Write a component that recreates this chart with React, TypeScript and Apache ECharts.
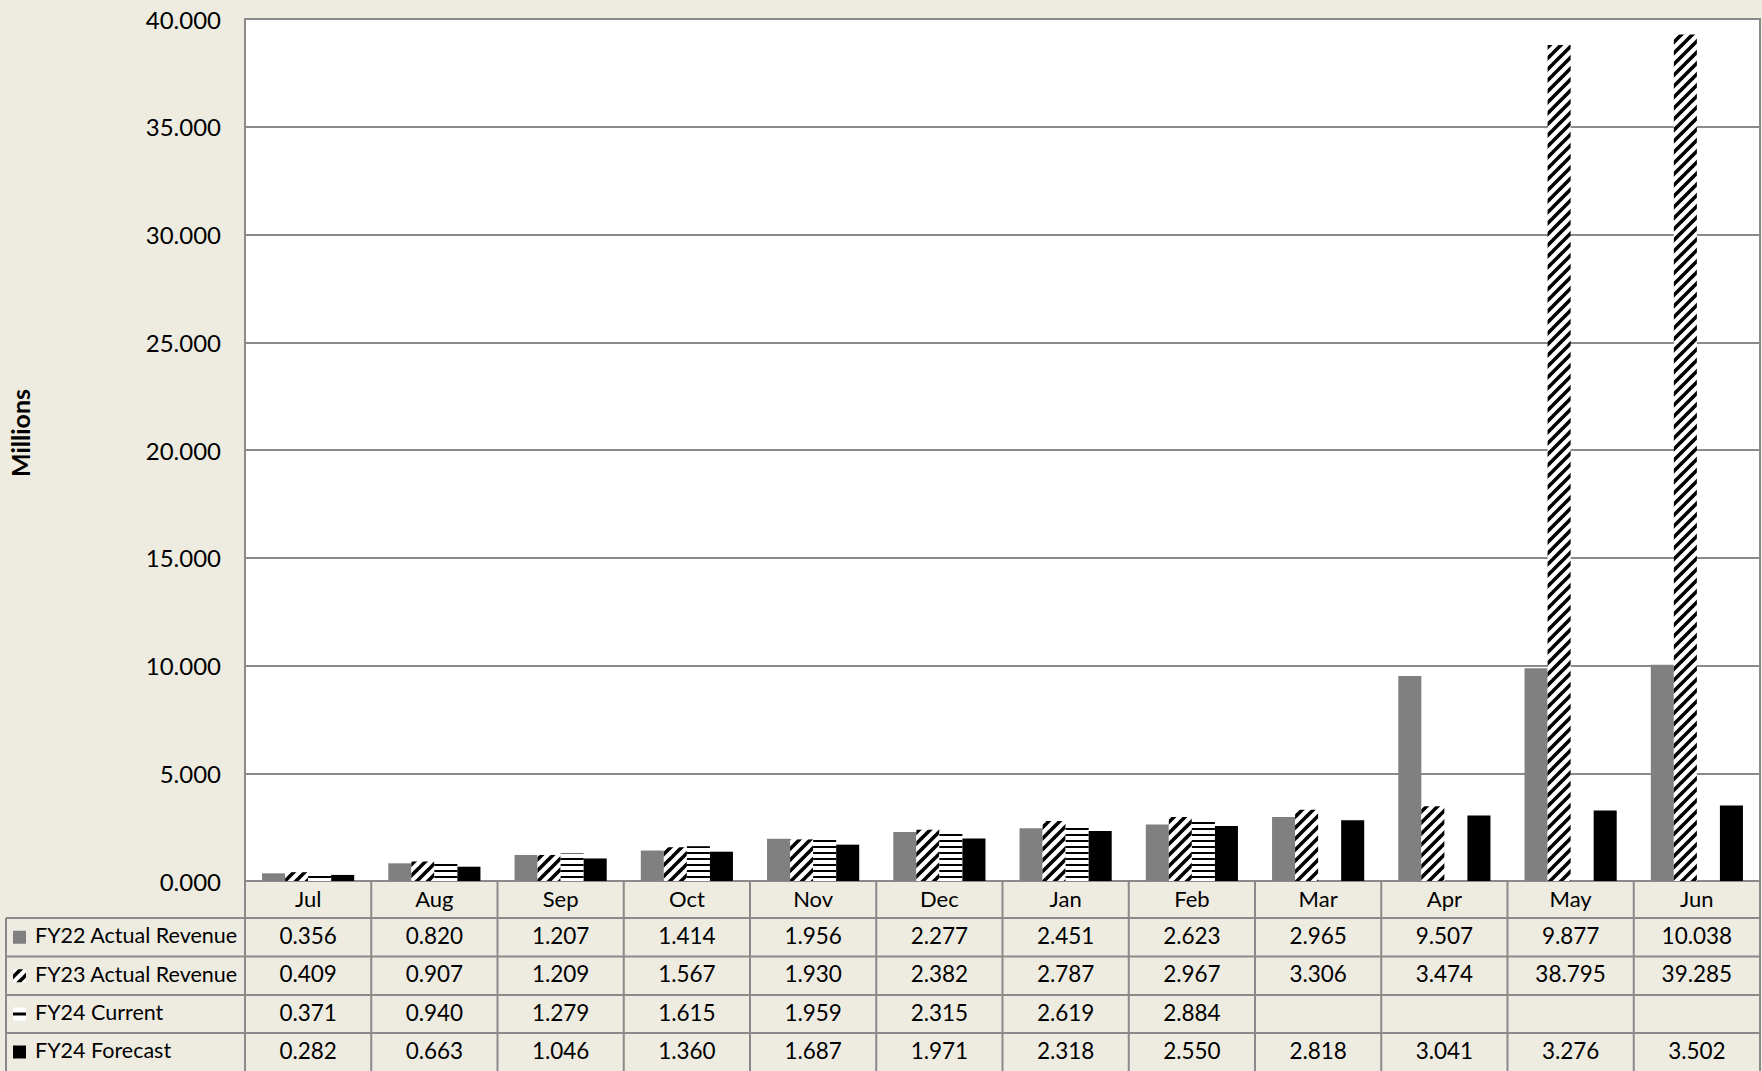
import React, { useEffect, useRef } from "react";
import * as echarts from "echarts";

const months = ["Jul", "Aug", "Sep", "Oct", "Nov", "Dec", "Jan", "Feb", "Mar", "Apr", "May", "Jun"];
const fy22Actual = [0.356, 0.82, 1.207, 1.414, 1.956, 2.277, 2.451, 2.623, 2.965, 9.507, 9.877, 10.038];
const fy23Actual = [0.409, 0.907, 1.209, 1.567, 1.93, 2.382, 2.787, 2.967, 3.306, 3.474, 38.795, 39.285];
const fy24Current = [0.371, 0.94, 1.279, 1.615, 1.959, 2.315, 2.619, 2.884, null, null, null, null];
const fy24Forecast = [0.282, 0.663, 1.046, 1.36, 1.687, 1.971, 2.318, 2.55, 2.818, 3.041, 3.276, 3.502];
const seriesNames = ["FY22 Actual Revenue", "FY23 Actual Revenue", "FY24 Current", "FY24 Forecast"];

const FONT = "Lato";
const BG = "#EEECE1";
const LINE = "#8a8a8a";

function makeDiag() {
  const s = 11;
  const c = document.createElement("canvas");
  c.width = s;
  c.height = s;
  const g = c.getContext("2d")!;
  g.fillStyle = "#fff";
  g.fillRect(0, 0, s, s);
  g.strokeStyle = "#000";
  g.lineWidth = 3.6;
  for (const k of [0, s, 2 * s]) {
    g.beginPath();
    g.moveTo(k + s, -s);
    g.lineTo(k - 2 * s, 2 * s);
    g.stroke();
  }
  return { image: c.toDataURL(), imageWidth: s, imageHeight: s, repeat: "repeat" };
}

function makeHoriz() {
  const w = 4, h = 6;
  const c = document.createElement("canvas");
  c.width = w;
  c.height = h;
  const g = c.getContext("2d")!;
  g.fillStyle = "#fff";
  g.fillRect(0, 0, w, h);
  g.fillStyle = "#000";
  g.fillRect(0, 0, w, 2);
  return { image: c.toDataURL(), imageWidth: w, imageHeight: h, repeat: "repeat" };
}

export default function App() {
  const ref = useRef<HTMLDivElement>(null);
  useEffect(() => {
    if (!ref.current) return;
    const chart = echarts.init(ref.current, null, { renderer: "svg" });
    const diag = makeDiag();
    const horiz = makeHoriz();
    const colors: any[] = ["#808080", diag, horiz, "#000000"];
    const datas = [fy22Actual, fy23Actual, fy24Current, fy24Forecast];

    const gridTop = 19;
    const gridBottomY = 881;
    const gridLeft = 245;
    const gridRight = 1760;

    chart.setOption({
      animation: false,
      backgroundColor: BG,
      grid: {
        left: gridLeft,
        top: gridTop,
        right: 1762 - gridRight,
        bottom: 1071 - gridBottomY,
        show: true,
        backgroundColor: "#ffffff",
        borderColor: LINE,
        borderWidth: 2,
      },
      xAxis: {
        type: "category",
        data: months,
        axisLine: { show: true, lineStyle: { color: LINE, width: 2 } },
        axisTick: { show: false },
        axisLabel: { fontFamily: FONT, fontSize: 22, color: "#000", margin: 6 },
      },
      yAxis: {
        type: "value",
        min: 0,
        max: 40,
        interval: 5,
        axisLine: { show: true, lineStyle: { color: LINE, width: 2 } },
        axisTick: { show: false },
        splitLine: { show: true, lineStyle: { color: LINE, width: 2 } },
        axisLabel: {
          fontFamily: FONT,
          fontSize: 24,
          color: "#000",
          margin: 24,
          formatter: (v: number) => v.toFixed(3),
        },
      },
      series: datas.map((d, i) => ({
        name: seriesNames[i],
        type: "bar",
        data: d,
        barGap: "0%",
        barCategoryGap: "27%",
        itemStyle: { color: colors[i] },
      })),
    });

    // Data table
    const centers = months.map((_, i) => chart.convertToPixel({ xAxisIndex: 0 }, i) as number);
    const colW = (gridRight - gridLeft) / months.length;
    const rowTops = [918, 956.5, 995, 1033, 1071];
    const tableLeft = 6;
    const els: any[] = [];
    const ln = (x1: number, y1: number, x2: number, y2: number) =>
      els.push({ type: "line", shape: { x1, y1, x2, y2 }, style: { stroke: LINE, lineWidth: 2 }, z: 100 });

    for (const y of rowTops.slice(0, 4)) ln(tableLeft, y, gridRight, y);
    ln(tableLeft, rowTops[0], tableLeft, 1071);
    for (let k = 0; k <= months.length; k++) {
      const x = gridLeft + k * colW;
      ln(x, gridBottomY, x, 1071);
    }

    for (let r = 0; r < 4; r++) {
      const cy = (rowTops[r] + rowTops[r + 1]) / 2;
      const ty = cy - 2;
      const kx = 13, ks = 13;
      if (r === 0) {
        els.push({ type: "rect", shape: { x: kx, y: cy - ks / 2, width: ks, height: ks }, style: { fill: "#808080" }, z: 100 });
      } else if (r === 1) {
        els.push({ type: "rect", shape: { x: kx, y: cy - ks / 2, width: ks, height: ks }, style: { fill: diag as any }, z: 100 });
      } else if (r === 2) {
        els.push({ type: "rect", shape: { x: kx, y: cy - ks / 2, width: ks, height: ks }, style: { fill: "#fff" }, z: 100 });
        els.push({ type: "rect", shape: { x: kx, y: cy - 1.5, width: ks, height: 3 }, style: { fill: "#000" }, z: 101 });
      } else {
        els.push({ type: "rect", shape: { x: kx, y: cy - ks / 2, width: ks, height: ks }, style: { fill: "#000" }, z: 100 });
      }
      els.push({
        type: "text",
        x: 35,
        y: ty,
        style: { text: seriesNames[r], fontFamily: FONT, fontSize: 21.5, fill: "#000", align: "left", verticalAlign: "middle" },
        z: 100,
      });
      const d = datas[r];
      d.forEach((v, i) => {
        if (v == null) return;
        els.push({
          type: "text",
          x: centers[i],
          y: ty,
          style: { text: (v as number).toFixed(3), fontFamily: FONT, fontSize: 22.5, fill: "#000", align: "center", verticalAlign: "middle" },
          z: 100,
        });
      });
    }

    els.push({
      type: "text",
      x: 20,
      y: 433,
      rotation: Math.PI / 2,
      style: { text: "Millions", fontFamily: FONT, fontSize: 25, fontWeight: "bold", fill: "#000", align: "center", verticalAlign: "middle" },
      z: 100,
    });

    chart.setOption({ graphic: els });

    return () => chart.dispose();
  }, []);
  return <div ref={ref} style={{ position: "fixed", left: 0, top: 0, width: 1762, height: 1071 }} />;
}
